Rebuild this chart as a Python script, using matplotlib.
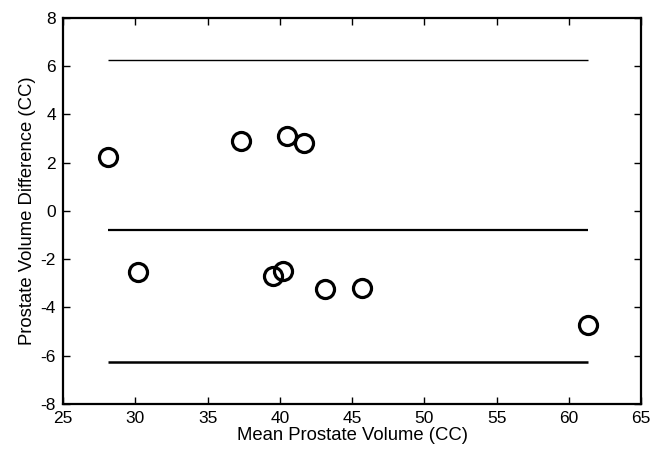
import numpy as np
import matplotlib
matplotlib.use("Agg")
import matplotlib.pyplot as plt

plt.rcParams['font.family'] = ['Liberation Sans', 'DejaVu Sans']
plt.rcParams['axes.unicode_minus'] = False

# Bland-Altman data
mean_vol = [28.1, 30.2, 37.3, 39.5, 40.2, 40.5, 41.7, 43.1, 45.7, 61.3]
diff_vol = [2.22, -2.55, 2.88, -2.68, -2.5, 3.12, 2.82, -3.24, -3.18, -4.72]
bias = -0.8
upper_loa = 6.25
lower_loa = -6.25

fig = plt.figure(figsize=(6.52, 4.55), dpi=100)
ax = fig.add_axes([0.0966, 0.112, 0.887, 0.849])

xmin, xmax = min(mean_vol), max(mean_vol)
ax.hlines(upper_loa, xmin, xmax, color="black", linewidth=1.0)
ax.hlines(bias, xmin, xmax, color="black", linewidth=1.6)
ax.hlines(lower_loa, xmin, xmax, color="black", linewidth=1.8)

ax.plot(mean_vol, diff_vol, linestyle="none", marker="o", markersize=13,
        markerfacecolor="none", markeredgecolor="black", markeredgewidth=2.3)

ax.set_xlim(25, 65)
ax.set_ylim(-8, 8)
ax.set_xticks(range(25, 66, 5))
ax.set_yticks(range(-8, 9, 2))
ax.tick_params(direction="in", top=True, right=True, length=5, width=1,
               labelsize=12.5, pad=5)
for s in ax.spines.values():
    s.set_linewidth(1.6)

ax.set_xlabel("Mean Prostate Volume (CC)", fontsize=13.3, labelpad=1)
ax.set_ylabel("Prostate Volume Difference (CC)", fontsize=13.3, labelpad=3)

fig.savefig("out.png", dpi=100)
